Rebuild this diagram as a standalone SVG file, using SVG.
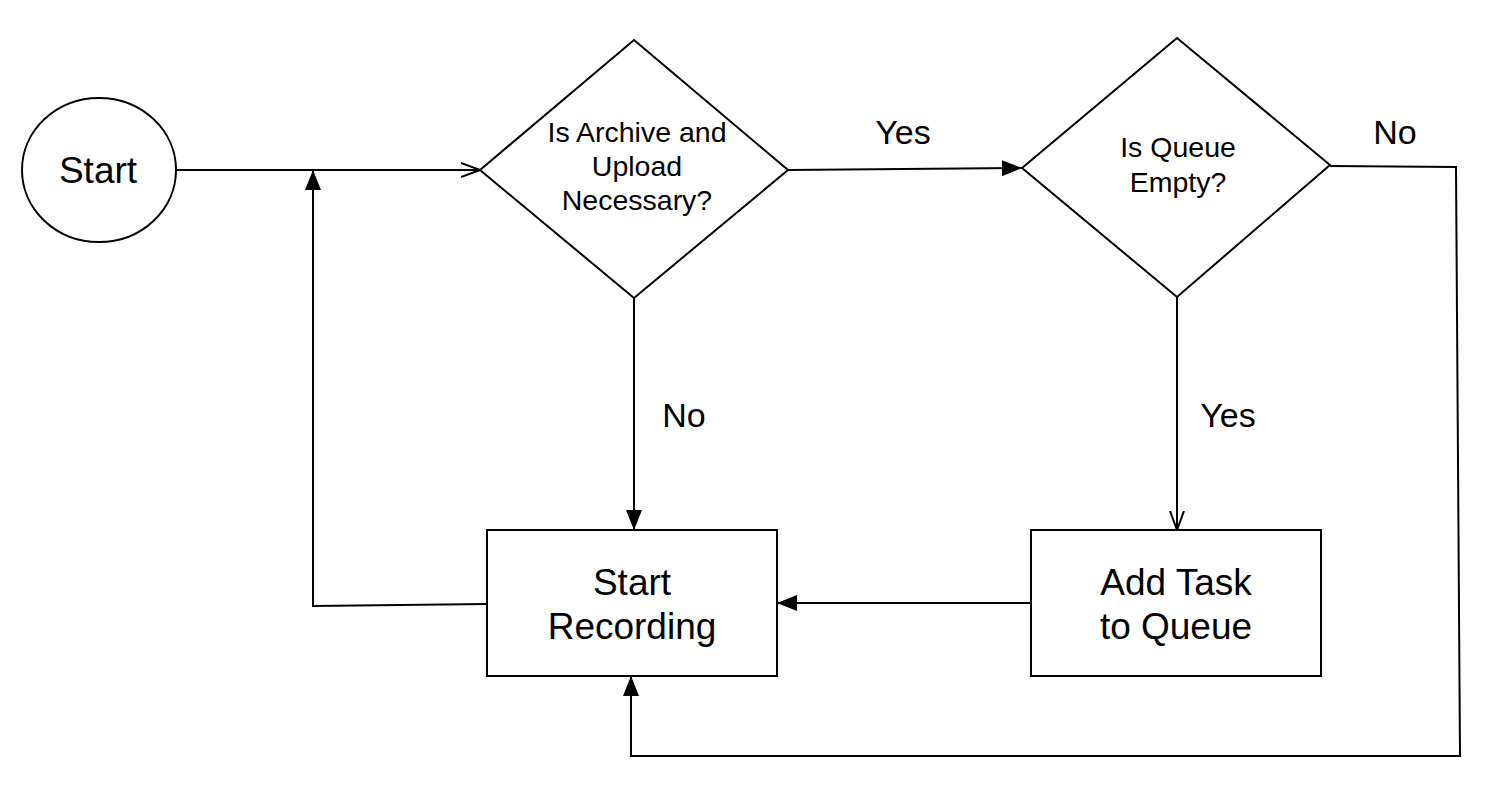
<svg xmlns="http://www.w3.org/2000/svg" width="1490" height="802" viewBox="0 0 1490 802">
<style>
.s{fill:#fff;stroke:#000;stroke-width:2}
.c{fill:none;stroke:#000;stroke-width:2}
text{font-family:"Liberation Sans",Arial,sans-serif;fill:#000;text-anchor:middle}
.sm{font-size:28.5px}
.lg{font-size:37px}
.lb{font-size:34px}
</style>
<defs>
<marker id="f" viewBox="0 0 20 16" refX="20" refY="8" markerWidth="20" markerHeight="16" markerUnits="userSpaceOnUse" orient="auto">
<path d="M0,0 L20,8 L0,16 Z" fill="#000"/>
</marker>
<marker id="o" viewBox="0 0 20 16" refX="19" refY="8" markerWidth="20" markerHeight="16" markerUnits="userSpaceOnUse" orient="auto">
<path d="M0,1 L19,8 L0,15" fill="none" stroke="#000" stroke-width="2"/>
</marker>
</defs>
<rect width="1490" height="802" fill="#fff"/>
<g id="connectors">
<path class="c" d="M177,170 L480,170" marker-end="url(#o)"/>
<path class="c" d="M788,170 L1022,168" marker-end="url(#f)"/>
<path class="c" d="M634,298 L634,530" marker-end="url(#f)"/>
<path class="c" d="M1177,297 L1177,530" marker-end="url(#o)"/>
<path class="c" d="M1031,603 L777,603" marker-end="url(#f)"/>
<path class="c" d="M487,604 L313,606 L313,170" marker-end="url(#f)"/>
<path class="c" d="M1330,166 L1456,167 L1460,756 L631,756 L631,676" marker-end="url(#f)"/>
<text x="903" y="144" class="lb">Yes</text>
<text x="1395" y="144" class="lb">No</text>
<text x="684" y="427" class="lb">No</text>
<text x="1228" y="427" class="lb">Yes</text>
</g>
<g id="start">
<ellipse class="s" cx="99" cy="170" rx="77" ry="72"/>
<text x="98" y="183" class="lg">Start</text>
</g>
<g id="archive">
<path class="s" d="M480,170 L634,40 L788,170 L634,298 Z"/>
<text x="637" y="142" class="sm">Is Archive and</text>
<text x="637" y="176" class="sm">Upload</text>
<text x="637" y="210" class="sm">Necessary?</text>
</g>
<g id="queue">
<path class="s" d="M1022,168 L1177,38 L1330,165 L1177,297 Z"/>
<text x="1178" y="157" class="sm">Is Queue</text>
<text x="1178" y="192" class="sm">Empty?</text>
</g>
<g id="recording">
<rect class="s" x="487" y="530" width="290" height="146"/>
<text x="632" y="595" class="lg">Start</text>
<text x="632" y="639" class="lg">Recording</text>
</g>
<g id="addtask">
<rect class="s" x="1031" y="530" width="290" height="146"/>
<text x="1176" y="595" class="lg">Add Task</text>
<text x="1176" y="639" class="lg">to Queue</text>
</g>
</svg>
